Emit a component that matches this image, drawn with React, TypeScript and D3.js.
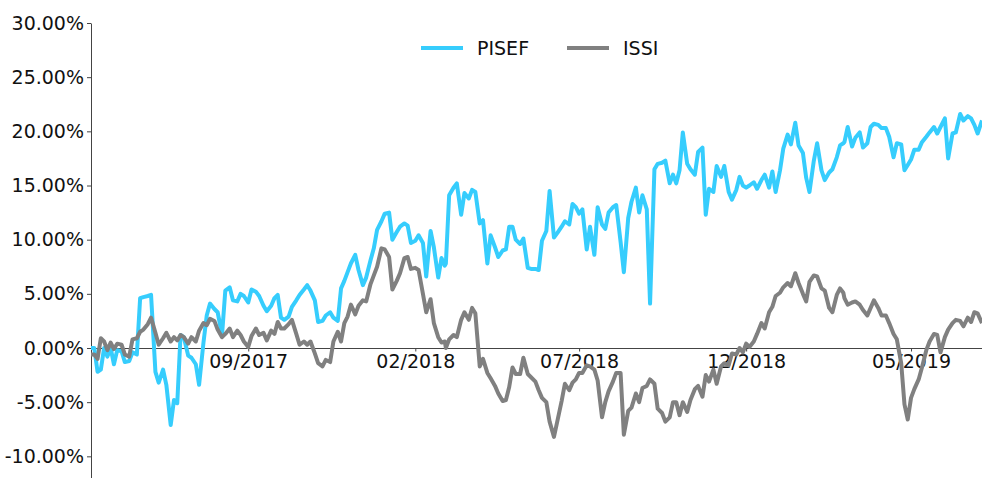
import React, { useEffect, useRef } from 'react';
import * as d3 from 'd3';

// sample dates (roughly twice a week)
const dates = [
  '2017-04-10', '2017-04-13', '2017-04-16', '2017-04-19', '2017-04-22', '2017-04-25', '2017-04-28',
  '2017-05-01', '2017-05-04', '2017-05-08', '2017-05-11', '2017-05-15', '2017-05-18', '2017-05-22', '2017-05-25', '2017-05-28',
  '2017-06-01', '2017-06-04', '2017-06-08', '2017-06-11', '2017-06-15', '2017-06-18', '2017-06-22', '2017-06-25', '2017-06-28',
  '2017-07-01', '2017-07-04', '2017-07-08', '2017-07-11', '2017-07-15', '2017-07-18', '2017-07-22', '2017-07-25', '2017-07-28',
  '2017-08-01', '2017-08-04', '2017-08-08', '2017-08-11', '2017-08-15', '2017-08-18', '2017-08-22', '2017-08-25', '2017-08-28',
  '2017-09-01', '2017-09-04', '2017-09-08', '2017-09-11', '2017-09-15', '2017-09-18', '2017-09-22', '2017-09-25', '2017-09-28',
  '2017-10-01', '2017-10-04', '2017-10-08', '2017-10-11', '2017-10-15', '2017-10-18', '2017-10-22', '2017-10-25', '2017-10-28',
  '2017-11-01', '2017-11-04', '2017-11-08', '2017-11-11', '2017-11-15', '2017-11-18', '2017-11-22', '2017-11-25', '2017-11-28',
  '2017-12-01', '2017-12-04', '2017-12-08', '2017-12-11', '2017-12-15', '2017-12-18', '2017-12-22', '2017-12-25', '2017-12-28',
  '2018-01-01', '2018-01-04', '2018-01-08', '2018-01-11', '2018-01-15', '2018-01-18', '2018-01-22', '2018-01-25', '2018-01-28',
  '2018-02-01', '2018-02-04', '2018-02-08', '2018-02-11', '2018-02-15', '2018-02-18', '2018-02-22', '2018-02-25', '2018-02-28',
  '2018-03-01', '2018-03-04', '2018-03-08', '2018-03-11', '2018-03-15', '2018-03-18', '2018-03-22', '2018-03-25', '2018-03-28',
  '2018-04-01', '2018-04-04', '2018-04-08', '2018-04-11', '2018-04-15', '2018-04-18', '2018-04-22', '2018-04-25', '2018-04-28',
  '2018-05-01', '2018-05-04', '2018-05-08', '2018-05-11', '2018-05-15', '2018-05-18', '2018-05-22', '2018-05-25', '2018-05-28',
  '2018-06-01', '2018-06-04', '2018-06-08', '2018-06-11', '2018-06-15', '2018-06-18', '2018-06-22', '2018-06-25', '2018-06-28',
  '2018-07-01', '2018-07-04', '2018-07-08', '2018-07-11', '2018-07-15', '2018-07-18', '2018-07-22', '2018-07-25', '2018-07-28',
  '2018-08-01', '2018-08-04', '2018-08-08', '2018-08-11', '2018-08-15', '2018-08-18', '2018-08-22', '2018-08-25', '2018-08-28',
  '2018-09-01', '2018-09-04', '2018-09-08', '2018-09-11', '2018-09-15', '2018-09-18', '2018-09-22', '2018-09-25', '2018-09-28',
  '2018-10-01', '2018-10-04', '2018-10-08', '2018-10-11', '2018-10-15', '2018-10-18', '2018-10-22', '2018-10-25', '2018-10-28',
  '2018-11-01', '2018-11-04', '2018-11-08', '2018-11-11', '2018-11-15', '2018-11-18', '2018-11-22', '2018-11-25', '2018-11-28',
  '2018-12-01', '2018-12-04', '2018-12-08', '2018-12-11', '2018-12-15', '2018-12-18', '2018-12-22', '2018-12-25', '2018-12-28',
  '2019-01-01', '2019-01-04', '2019-01-08', '2019-01-11', '2019-01-15', '2019-01-18', '2019-01-22', '2019-01-25', '2019-01-28',
  '2019-02-01', '2019-02-04', '2019-02-08', '2019-02-11', '2019-02-15', '2019-02-18', '2019-02-22', '2019-02-25', '2019-02-28',
  '2019-03-01', '2019-03-04', '2019-03-08', '2019-03-11', '2019-03-15', '2019-03-18', '2019-03-22', '2019-03-25', '2019-03-28',
  '2019-04-01', '2019-04-04', '2019-04-08', '2019-04-11', '2019-04-15', '2019-04-18', '2019-04-22', '2019-04-25', '2019-04-28',
  '2019-05-01', '2019-05-04', '2019-05-08', '2019-05-11', '2019-05-15', '2019-05-18', '2019-05-22', '2019-05-25', '2019-05-28',
  '2019-06-01', '2019-06-04', '2019-06-08', '2019-06-11', '2019-06-15', '2019-06-18', '2019-06-22', '2019-06-25', '2019-06-28',
  '2019-07-01', '2019-07-05',
];

// cumulative return, %
const pisef = [
  0, 0, -2.2, -2.0, 0, -0.8, 0,
  -1.5, -0.2, -0.3, -1.3, -1.2, -0.4, -0.6, 4.6, 4.7,
  4.8, 4.9, -2.2, -3.2, -2.0, -3.4, -7.1, -4.8, -5.1,
  1.2, 1.0, -0.7, -0.9, -1.5, -3.4, 0.5, 3.0, 4.1,
  3.6, 3.3, 1.2, 5.3, 5.6, 4.4, 4.3, 5.0, 4.8,
  4.2, 5.4, 5.2, 4.8, 3.9, 3.4, 3.9, 4.6, 4.9,
  2.8, 2.6, 2.9, 3.8, 4.4, 4.9, 5.4, 5.8, 5.3,
  4.4, 2.4, 2.5, 3.0, 3.3, 2.8, 2.5, 5.5, 6.2,
  7.0, 7.8, 8.6, 7.2, 5.8, 6.5, 8.1, 9.2, 10.9,
  11.7, 12.4, 12.5, 10.0, 10.7, 11.2, 11.5, 11.3, 9.7,
  9.9, 10.4, 9.7, 6.6, 10.8, 9.3, 6.5, 8.3, 7.6,
  7.8, 14.1, 14.8, 15.2, 12.3, 14.3, 13.8, 14.6, 14.4,
  11.5, 11.8, 7.8, 10.4, 9.3, 8.4, 9.0, 9.1, 11.2,
  11.2, 10.0, 9.6, 10.1, 7.4, 7.3, 7.3, 7.2, 9.9,
  10.8, 14.5, 10.2, 10.6, 11.2, 11.7, 11.4, 13.3, 13.0,
  12.4, 12.8, 9.1, 11.2, 8.6, 13.0, 11.4, 11.0, 12.5,
  13.0, 13.2, 9.8, 7.0, 12.0, 13.5, 14.8, 12.5, 14.1,
  12.8, 4.1, 16.5, 17.0, 17.1, 17.3, 15.2, 16.0, 15.2,
  16.4, 19.9, 17.0, 16.5, 16.0, 18.1, 18.5, 12.3, 14.7,
  14.4, 16.8, 15.8, 16.8, 14.4, 13.7, 14.6, 15.8, 15.0,
  14.8, 15.0, 15.3, 14.7, 15.5, 16.0, 14.8, 16.3, 14.4,
  16.4, 18.4, 19.7, 18.8, 20.8, 18.7, 18.0, 15.7, 14.4,
  17.3, 18.9, 16.4, 15.5, 16.2, 16.5, 17.6, 18.7, 18.9,
  19.0, 20.4, 18.6, 19.4, 19.9, 18.5, 18.9, 20.4, 20.7,
  20.6, 20.3, 20.3, 19.5, 17.6, 18.9, 18.8, 16.4, 16.9,
  17.4, 18.3, 18.3, 19.0, 19.5, 19.9, 20.4, 19.8, 20.4,
  21.2, 17.5, 19.8, 19.9, 21.6, 21.0, 21.4, 21.2, 20.6,
  19.8, 21.0,
];

const issi = [
  -0.6, -0.6, -1.0, 0.9, 0.6, -0.2, 0.5,
  -0.1, 0.4, 0.3, -0.6, -0.8, 0.8, 0.9, 1.5, 1.7,
  2.2, 2.8, 1.4, 0.3, 0.9, 1.4, 0.6, 1.0, 0.7,
  1.2, 1.0, 0.4, 1.0, 0.6, 1.6, 2.3, 2.1, 2.7,
  2.5, 1.7, 1.0, 1.3, 1.8, 1.0, 1.6, 1.2, 0.6,
  0.1, 1.1, 1.8, 1.2, 1.4, 0.7, 1.6, 1.3, 2.4,
  1.8, 1.8, 2.2, 2.6, 1.3, 0.3, 0.6, 0.3, 0.6,
  -0.5, -1.4, -1.7, -1.1, -1.3, 0.6, 1.5, 0.6, 2.3,
  2.9, 4.0, 3.1, 3.9, 4.4, 4.3, 5.9, 6.7, 7.5,
  9.2, 9.1, 8.4, 5.4, 6.2, 6.9, 8.3, 8.4, 7.3,
  7.4, 7.2, 5.0, 3.3, 4.5, 2.3, 1.0, 0.5, 0.6,
  0.0, 0.8, 1.2, 1.0, 2.6, 3.3, 2.6, 3.7, 3.2,
  -1.7, -1.0, -2.3, -2.8, -3.5, -4.2, -4.9, -4.8, -3.6,
  -1.8, -2.4, -2.4, -0.9, -2.4, -2.7, -3.1, -3.9, -4.6,
  -5.0, -6.8, -8.2, -6.8, -4.9, -3.3, -3.9, -3.2, -2.9,
  -2.3, -2.3, -1.6, -1.7, -2.0, -3.0, -6.4, -5.0, -4.0,
  -3.1, -2.3, -2.3, -8.0, -5.8, -5.5, -4.2, -5.0, -3.7,
  -3.5, -2.9, -3.3, -5.6, -6.0, -6.8, -6.4, -5.0, -5.0,
  -6.2, -5.0, -5.9, -4.8, -3.8, -3.5, -4.5, -2.5, -3.1,
  -2.0, -3.3, -1.7, -1.4, -1.6, -0.5, -0.6, 0.0, -0.4,
  0.4, 0.1, 0.6, 1.3, 2.3, 1.8, 3.3, 3.8, 4.8,
  5.1, 5.6, 6.0, 5.7, 6.9, 6.0, 5.0, 4.3, 6.1,
  6.7, 6.6, 5.5, 5.3, 3.7, 3.3, 4.9, 5.5, 5.1,
  4.6, 4.0, 4.2, 4.3, 4.0, 3.5, 3.0, 3.7, 4.4,
  3.7, 3.0, 3.0, 2.3, 1.3, 0.8, -1.4, -5.2, -6.6,
  -4.6, -3.8, -2.9, -1.8, -0.2, 0.6, 1.3, 1.2, -0.4,
  1.0, 1.7, 2.3, 2.6, 2.5, 2.0, 2.8, 2.4, 3.3,
  3.2, 2.3,
];

const seriesNames = ['PISEF', 'ISSI'];
const seriesColors = ['#36cdfd', '#808080'];
const xTickDates = ['2017-09-01', '2018-02-01', '2018-07-01', '2018-12-01', '2019-05-01'];
const yTickValues = [-10, -5, 0, 5, 10, 15, 20, 25, 30];

const FONT = '"DejaVu Sans", sans-serif';

export default function App() {
  const svgRef = useRef<SVGSVGElement>(null);
  const width = 982;
  const height = 478;

  useEffect(() => {
    if (!svgRef.current) return;
    const svg = d3.select(svgRef.current);
    svg.selectAll('*').remove();

    const margin = { top: 23, right: 0, bottom: 0, left: 91 };
    const parse = d3.timeParse('%Y-%m-%d');
    const xs = dates.map((d) => parse(d) as Date);

    const x = d3
      .scaleTime()
      .domain([xs[0], xs[xs.length - 1]])
      .range([margin.left, width - margin.right]);
    const y = d3
      .scaleLinear()
      .domain([-12, 30])
      .range([height - margin.bottom, margin.top]);

    // y axis
    const yAxis = svg
      .append('g')
      .attr('transform', `translate(${margin.left},0)`)
      .call(
        d3
          .axisLeft(y)
          .tickValues(yTickValues)
          .tickSize(4)
          .tickSizeOuter(0)
          .tickPadding(3)
          .tickFormat((d) => `${(d as number).toFixed(2)}%`)
      );
    yAxis.selectAll('path, line').attr('stroke', '#444').attr('stroke-width', 1);
    yAxis
      .selectAll('text')
      .attr('font-family', FONT)
      .attr('font-size', 19)
      .attr('fill', '#111');

    // x axis along zero
    const xAxis = svg
      .append('g')
      .attr('transform', `translate(0,${y(0)})`)
      .call(
        d3
          .axisBottom(x)
          .tickValues(xTickDates.map((d) => parse(d) as Date))
          .tickSize(3.5)
          .tickSizeOuter(0)
          .tickPadding(3)
          .tickFormat((d) => d3.timeFormat('%m/%Y')(d as Date))
      );
    xAxis.selectAll('path, line').attr('stroke', '#444').attr('stroke-width', 1);
    xAxis
      .selectAll('text')
      .attr('font-family', FONT)
      .attr('font-size', 19)
      .attr('fill', '#111');

    // series lines
    const line = d3
      .line<number>()
      .x((_, i) => x(xs[i]))
      .y((d) => y(d));

    [pisef, issi].forEach((values, k) => {
      svg
        .append('path')
        .attr('d', line(values))
        .attr('fill', 'none')
        .attr('stroke', seriesColors[k])
        .attr('stroke-width', 4)
        .attr('stroke-linejoin', 'round');
    });

    // legend
    const legendX = [421, 567];
    seriesNames.forEach((name, k) => {
      const g = svg.append('g').attr('transform', `translate(${legendX[k]},48)`);
      g.append('line')
        .attr('x1', 0)
        .attr('x2', 42)
        .attr('y1', 0)
        .attr('y2', 0)
        .attr('stroke', seriesColors[k])
        .attr('stroke-width', 4);
      g.append('text')
        .attr('x', 56)
        .attr('y', 7)
        .attr('font-family', FONT)
        .attr('font-size', 19)
        .attr('fill', '#111')
        .text(name);
    });
  }, []);

  return (
    <svg
      ref={svgRef}
      width={width}
      height={height}
      style={{ position: 'absolute', left: 0, top: 0, background: '#fff' }}
    />
  );
}
